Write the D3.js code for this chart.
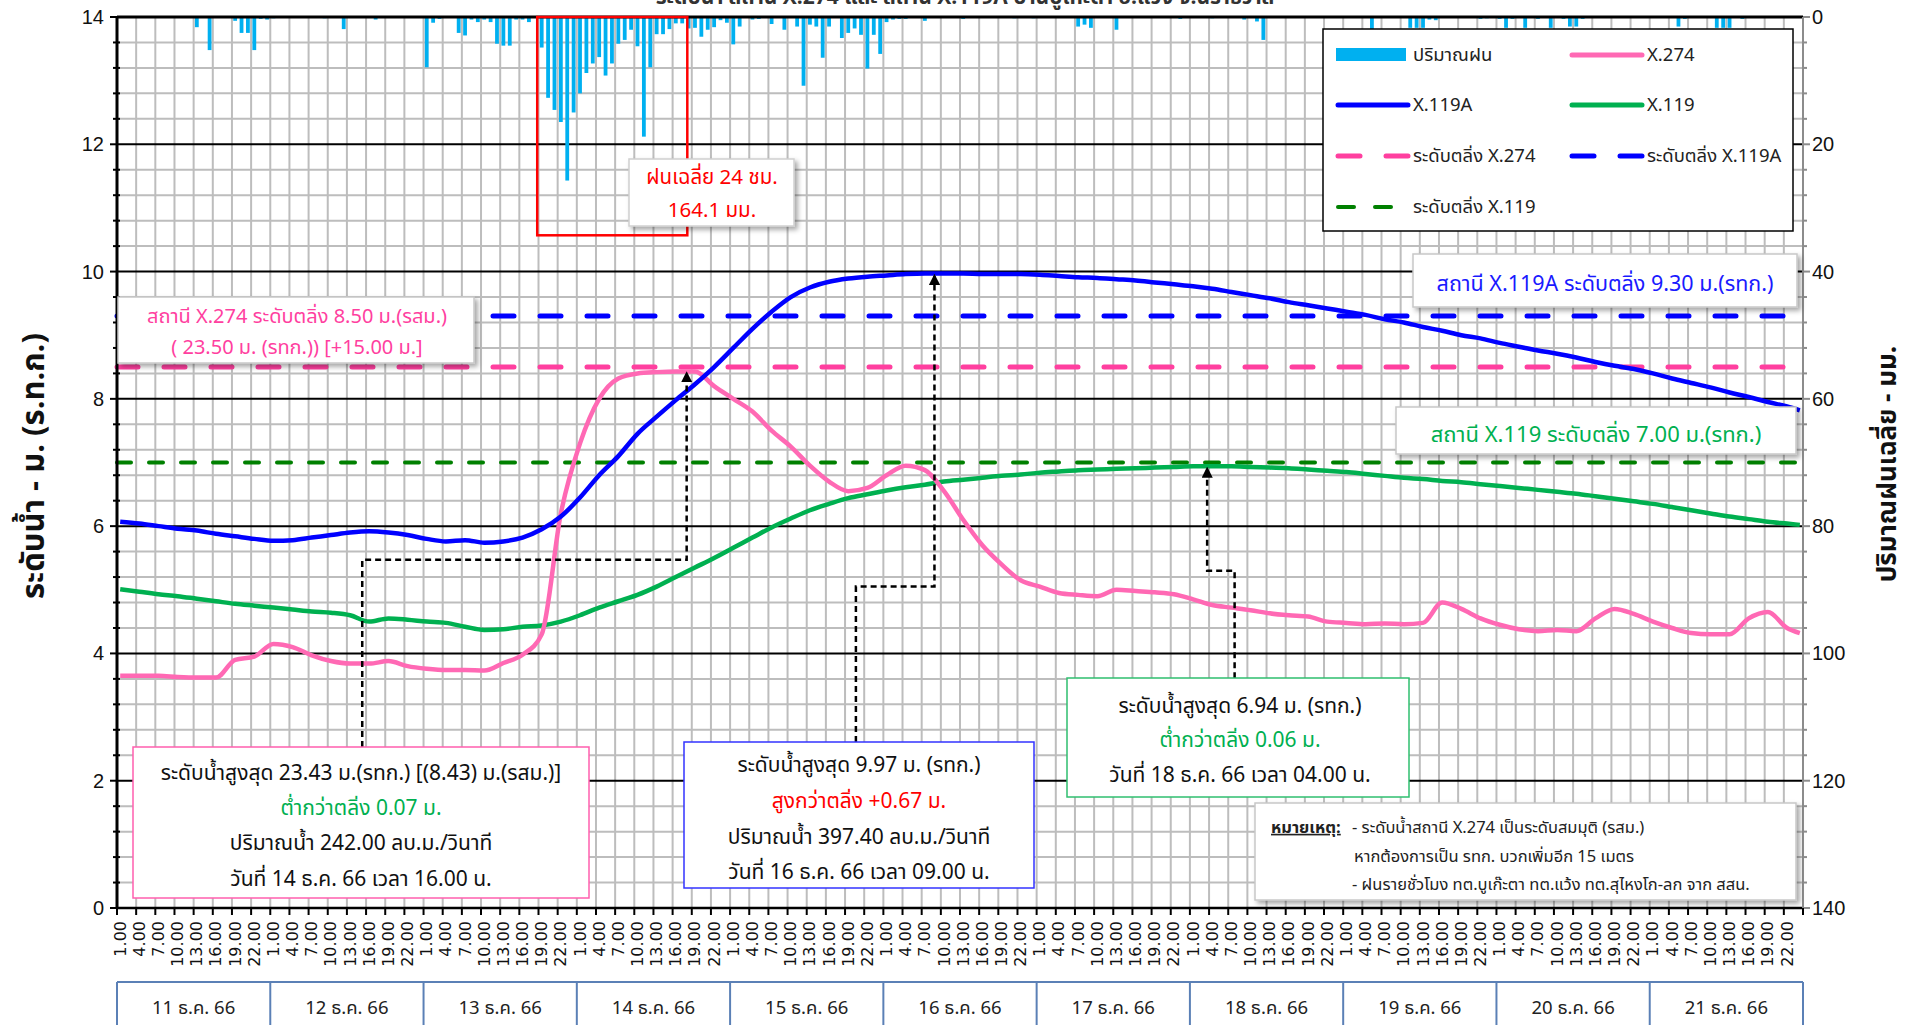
<!DOCTYPE html>
<html><head><meta charset="utf-8">
<script src="https://cdn.jsdelivr.net/npm/d3@7"></script>
<style>
html,body{margin:0;padding:0;background:#fff;overflow:hidden}
svg{display:block}
text{font-family:Tahoma,"Noto Sans Thai","Noto Sans","DejaVu Sans",sans-serif}
</style></head><body>
<svg id="c" width="1916" height="1025"></svg>
<script>
// ---------------- DATA ----------------
const days = ["11 ธ.ค. 66","12 ธ.ค. 66","13 ธ.ค. 66","14 ธ.ค. 66","15 ธ.ค. 66","16 ธ.ค. 66","17 ธ.ค. 66","18 ธ.ค. 66","19 ธ.ค. 66","20 ธ.ค. 66","21 ธ.ค. 66"];
const tickLabels = ["1.00","4.00","7.00","10.00","13.00","16.00","19.00","22.00"];
const leftTicks = [0,2,4,6,8,10,12,14];
const rightTicks = [0,20,40,60,80,100,120,140];
// hour index (0 = 11 ธ.ค. 1.00) of each sampled water level reading (every 3 h + last hour)
const sampleHours = [0,3,6,9,12,15,18,21,24,27,30,33,36,39,42,45,48,51,54,57,60,63,66,69,72,75,78,81,84,87,90,93,96,99,102,105,108,111,114,117,120,123,126,129,132,135,138,141,144,147,150,153,156,159,162,165,168,171,174,177,180,183,186,189,192,195,198,201,204,207,210,213,216,219,222,225,228,231,234,237,240,243,246,249,252,255,258,261,263];
const levelX274 = [3.65,3.65,3.65,3.63,3.62,3.62,3.9,3.95,4.15,4.1,3.97,3.88,3.84,3.84,3.88,3.8,3.76,3.74,3.74,3.73,3.85,3.98,4.3,6.2,7.3,8.0,8.32,8.4,8.42,8.43,8.43,8.2,8.0,7.8,7.5,7.25,6.95,6.7,6.55,6.6,6.8,6.95,6.88,6.55,6.1,5.7,5.4,5.15,5.05,4.95,4.92,4.9,5.0,4.98,4.96,4.93,4.85,4.76,4.72,4.68,4.63,4.6,4.58,4.5,4.48,4.46,4.47,4.46,4.48,4.8,4.7,4.55,4.45,4.38,4.35,4.37,4.35,4.55,4.7,4.62,4.5,4.4,4.32,4.3,4.3,4.55,4.65,4.4,4.32];
const levelX119A = [6.07,6.04,6.0,5.96,5.93,5.88,5.84,5.8,5.77,5.78,5.82,5.86,5.9,5.92,5.9,5.86,5.8,5.76,5.78,5.74,5.76,5.82,5.95,6.15,6.45,6.8,7.1,7.45,7.72,7.98,8.23,8.5,8.8,9.1,9.37,9.6,9.75,9.84,9.89,9.92,9.94,9.96,9.97,9.97,9.97,9.96,9.96,9.96,9.95,9.93,9.91,9.9,9.88,9.86,9.83,9.8,9.77,9.73,9.68,9.63,9.58,9.52,9.47,9.42,9.37,9.32,9.25,9.2,9.13,9.07,9.0,8.95,8.88,8.82,8.76,8.71,8.65,8.58,8.52,8.47,8.4,8.32,8.25,8.18,8.1,8.03,7.95,7.88,7.82];
const levelX119 = [5.01,4.97,4.93,4.9,4.86,4.82,4.78,4.75,4.72,4.69,4.66,4.64,4.6,4.5,4.55,4.53,4.5,4.48,4.42,4.37,4.38,4.42,4.44,4.5,4.6,4.72,4.82,4.92,5.05,5.2,5.35,5.5,5.66,5.82,5.98,6.12,6.25,6.35,6.44,6.5,6.56,6.61,6.65,6.7,6.73,6.76,6.79,6.81,6.84,6.86,6.88,6.89,6.9,6.91,6.92,6.93,6.94,6.94,6.94,6.93,6.92,6.91,6.89,6.87,6.85,6.82,6.79,6.76,6.74,6.71,6.69,6.66,6.63,6.6,6.57,6.54,6.51,6.47,6.43,6.39,6.35,6.3,6.25,6.2,6.15,6.11,6.07,6.04,6.02];
// hourly rainfall (mm), one row per day, hours 1..24
const rain = [
  0,0,0,0,0,0,0,0,0,0,0,0,1.6,0,5.2,0,0,0,0.6,2.5,2.5,5.2,0.3,0.4,
  0.2,0,0,0,0,0,0,0,0.2,0,0,1.9,0,0,0,0,0.4,0,0,0,0,0,0,0,
  7.9,0.9,0.3,0,0,2.5,2.9,0.4,0.8,0.4,0.8,4.2,4.5,4.5,0.4,0.4,0.8,0,4.8,12.7,14.6,16.5,25.7,15,
  12,8.8,7.3,6.3,9.2,7.3,4.2,3.6,2,4.6,18.8,7.9,2.7,2.7,1.9,1,1,1.8,1.7,3.1,2.0,1.6,0.5,0.9,
  4.3,1.5,0,0.4,0.3,0,1.1,0,2.0,0,1.5,10.8,1.2,1.5,6.4,1.5,0,3.3,2.5,1.8,2.8,8.1,2.8,5.8,
  0.8,0.4,0.3,0.3,0,0,0.6,0,0,0,0,0,0.3,0,0,0,0,0,0,0,0.2,0,0,0.2,
  0,0,0,0,0,0,1.5,1.2,1.7,0,0,0,2.0,0,0,0,0,0,0,0,0,0,0.3,0,
  0,0,0,0.2,0,0,0,0,0.4,0,0.7,3.6,0,0,0,0,0,0,0,0,0,0,0,0,
  0,0,0,0,2.0,0,0,0,0,0,1.7,1.7,1.7,0.4,0.5,0,0,0,0,0,0,0.3,0.2,0,
  0.3,1.7,0.3,0,1.7,0,0.3,0,1.7,0,0.3,1.5,1.5,0.3,0,0,0,0,0,0,0,0,0,0,
  0,0,0,0,1.5,0.3,0,0,0,0,1.7,1.7,1.7,0,0.3,0,0,0,0,0,0,0,0,0
];
const bankX274 = 8.5, bankX119A = 9.3, bankX119 = 7.0;
// peak markers: [hour index, level]
const peakX274 = [89.2, 8.43], peakX119A = [128, 9.97], peakX119 = [170.7, 6.94];

// ---------------- LAYOUT ----------------
const L=117, R=1803, T=17, B=908;
const svg = d3.select('#c');
const x = d3.scaleLinear().domain([0,264]).range([L,R]);
const y = d3.scaleLinear().domain([0,14]).range([B,T]);
const yr = d3.scaleLinear().domain([0,140]).range([T,B]);
const cPink='#ff69b4', cPinkD='#ff3f9f', cBlue='#0000ff', cGreen='#00b050', cGreenD='#008000', cRain='#00b0f0';

const defs = svg.append('defs');
const f = defs.append('filter').attr('id','sh').attr('x','-5%').attr('y','-10%').attr('width','115%').attr('height','135%');
f.append('feDropShadow').attr('dx',3).attr('dy',3).attr('stdDeviation',2.5).attr('flood-color','#000').attr('flood-opacity',0.35);
defs.append('marker').attr('id','arr').attr('viewBox','0 0 10 10').attr('refX',8).attr('refY',5)
  .attr('markerWidth',4.5).attr('markerHeight',4.5).attr('orient','auto')
  .append('path').attr('d','M0,0L10,5L0,10z').attr('fill','#000');

// title (partially cut at top, as in the original)
svg.append('text').attr('x',965).attr('y',4).attr('text-anchor','middle').attr('font-size',21).attr('font-weight','bold').attr('fill','#333')
  .text('ระดับน้ำ สถานี X.274 และ สถานี X.119A บ้านบูเก๊ะตา อ.แว้ง จ.นราธิวาส');

// grid
const grid = svg.append('g');
d3.range(1,88).forEach(k=>{
  grid.append('line').attr('x1',x(3*k)).attr('x2',x(3*k)).attr('y1',T).attr('y2',B).attr('stroke','#bdbdbd').attr('stroke-width',2);
});
d3.range(1,35).forEach(i=>{
  const v=i*0.4; const major = i%5===0;
  grid.append('line').attr('x1',L).attr('x2',R).attr('y1',y(v)).attr('y2',y(v))
    .attr('stroke',major?'#000':'#bdbdbd').attr('stroke-width',2);
});

// rain bars
svg.append('g').selectAll('rect').data(rain.map((v,i)=>({v,i})).filter(d=>d.v>0)).join('rect')
  .attr('x',d=>x(d.i+0.5)-1.9).attr('width',3.8).attr('y',T).attr('height',d=>yr(d.v)-T).attr('fill',cRain);

// bank level dashed lines
const bank = svg.append('g');
bank.append('line').attr('x1',L).attr('x2',R).attr('y1',y(bankX119)).attr('y2',y(bankX119))
  .attr('stroke',cGreenD).attr('stroke-width',4).attr('stroke-dasharray','14,18').attr('stroke-linecap','round');
bank.append('line').attr('x1',L).attr('x2',R).attr('y1',y(bankX274)).attr('y2',y(bankX274))
  .attr('stroke',cPinkD).attr('stroke-width',5).attr('stroke-dasharray','21,26').attr('stroke-linecap','round');
bank.append('line').attr('x1',L).attr('x2',R).attr('y1',y(bankX119A)).attr('y2',y(bankX119A))
  .attr('stroke',cBlue).attr('stroke-width',5).attr('stroke-dasharray','21,26').attr('stroke-linecap','round');

// series
const line = d3.line().x((d,i)=>x(sampleHours[i]+0.5)).y(d=>y(d)).curve(d3.curveMonotoneX);
[[levelX119,cGreen],[levelX274,cPink],[levelX119A,cBlue]].forEach(([s,c])=>{
  svg.append('path').attr('d',line(s)).attr('fill','none').attr('stroke',c).attr('stroke-width',4.5).attr('stroke-linejoin','round');
});

// axes frame
const ax = svg.append('g');
ax.append('line').attr('x1',L).attr('x2',R).attr('y1',T).attr('y2',T).attr('stroke','#000').attr('stroke-width',3);
ax.append('line').attr('x1',L).attr('x2',R).attr('y1',B).attr('y2',B).attr('stroke','#000').attr('stroke-width',2.5);
ax.append('line').attr('x1',L).attr('x2',L).attr('y1',T).attr('y2',B).attr('stroke','#000').attr('stroke-width',3);
ax.append('line').attr('x1',R).attr('x2',R).attr('y1',T).attr('y2',B).attr('stroke','#8c8c8c').attr('stroke-width',2);
d3.range(0,36).forEach(i=>{
  const v=i*0.4, major=i%5===0;
  ax.append('line').attr('x1',L-(major?7:4)).attr('x2',L+(major?0:3)).attr('y1',y(v)).attr('y2',y(v)).attr('stroke','#000').attr('stroke-width',2);
  ax.append('line').attr('x1',R).attr('x2',R+(major?7:4)).attr('y1',y(v)).attr('y2',y(v)).attr('stroke','#8c8c8c').attr('stroke-width',2);
});
ax.selectAll('.lt').data(leftTicks).join('text').attr('x',104).attr('y',d=>y(d)).attr('dy','0.35em').attr('text-anchor','end')
  .attr('font-size',20).style('font-family','"Liberation Sans",Arial,sans-serif').attr('fill','#111').text(d=>d);
ax.selectAll('.rt').data(rightTicks).join('text').attr('x',1812).attr('y',d=>yr(d)).attr('dy','0.35em').attr('text-anchor','start')
  .attr('font-size',20).style('font-family','"Liberation Sans",Arial,sans-serif').attr('fill','#111').text(d=>d);
// x ticks + labels
d3.range(0,89).forEach(k=>{
  ax.append('line').attr('x1',x(3*k)).attr('x2',x(3*k)).attr('y1',B).attr('y2',B+7).attr('stroke','#000').attr('stroke-width',2);
});
d3.range(0,88).forEach(k=>{
  const cx = x(3*k+0.5);
  ax.append('text').attr('transform',`translate(${cx+5.5},921) rotate(-90)`).attr('text-anchor','end')
    .attr('font-size',16).style('font-family','"DejaVu Sans",sans-serif').attr('fill','#111').text(tickLabels[k%8]);
});
// day boxes
ax.append('line').attr('x1',x(0)).attr('x2',x(264)).attr('y1',982).attr('y2',982).attr('stroke','#5b80b6').attr('stroke-width',2);
d3.range(0,12).forEach(d=>{
  ax.append('line').attr('x1',x(24*d)).attr('x2',x(24*d)).attr('y1',982).attr('y2',1025).attr('stroke','#5b80b6').attr('stroke-width',2);
});
ax.selectAll('.dl').data(days).join('text').attr('x',(d,i)=>x(24*i+12)).attr('y',1014).attr('text-anchor','middle')
  .attr('font-size',18.5).attr('fill','#222').text(d=>d);

// axis titles
svg.append('text').attr('transform','translate(44,466) rotate(-90)').attr('text-anchor','middle').attr('font-size',31).attr('font-weight','bold').attr('fill','#111').text('ระดับน้ำ - ม. (ร.ท.ก.)');
svg.append('text').attr('transform','translate(1896,464) rotate(-90)').attr('text-anchor','middle').attr('font-size',26).attr('font-weight','bold').attr('fill','#111').text('ปริมาณฝนเฉลี่ย - มม.');

// red 24h rectangle + label
svg.append('rect').attr('x',x(65.8)).attr('y',T).attr('width',x(89.3)-x(65.8)).attr('height',yr(34.3)-T).attr('fill','none').attr('stroke','#ff0000').attr('stroke-width',2.5);
function box(x0,y0,w,h,stroke,shadow){
  svg.append('rect').attr('x',x0).attr('y',y0).attr('width',w).attr('height',h).attr('fill','#fff')
    .attr('stroke',stroke).attr('stroke-width',1.5).attr('filter',shadow?'url(#sh)':null);
}
function lines(cx,ys,items,size){
  items.forEach((t,i)=>svg.append('text').attr('x',cx).attr('y',ys[i]).attr('dy','0.35em').attr('text-anchor','middle')
    .attr('font-size',size).attr('fill',t[1]).text(t[0]));
}
box(629,159,165,67,'#d0d0d0',true);
lines(712,[177,210],[['ฝนเฉลี่ย 24 ชม.','#ff0000'],['164.1 มม.','#ff0000']],20.5);

// bank level labels
box(118,297,356,66,'#c8c8c8',true);
lines(297,[316,347],[['สถานี X.274 ระดับตลิ่ง  8.50 ม.(รสม.)',cPinkD],['( 23.50 ม. (รทก.)) [+15.00 ม.]',cPinkD]],20);
box(1413,254,384,53,'#c8c8c8',true);
lines(1605,[283],[['สถานี X.119A ระดับตลิ่ง 9.30 ม.(รทก.)','#1a1aff']],21.5);
box(1396,407,400,47,'#c8c8c8',true);
lines(1596,[434],[['สถานี X.119 ระดับตลิ่ง 7.00 ม.(รทก.)',cGreen]],22);

// connectors
const conn = d3.line().x(d=>x(d[0])).y(d=>y(d[1]));
[
  [[38.4,2.53],[38.4,5.47],[peakX274[0],5.47],[peakX274[0],peakX274[1]-0.03]],
  [[115.7,2.61],[115.7,5.05],[peakX119A[0],5.05],[peakX119A[0],peakX119A[1]-0.04]],
  [[175,3.61],[175,5.3],[peakX119[0],5.3],[peakX119[0],peakX119[1]-0.04]]
].forEach(p=>{
  svg.append('path').attr('d',conn(p)).attr('fill','none').attr('stroke','#000').attr('stroke-width',2.5)
    .attr('stroke-dasharray','6,4').attr('marker-end','url(#arr)');
});

// peak boxes
box(133,747,456,151,'#ff5fae',false);
lines(361,[773,808,843,879],[
  ['ระดับน้ำสูงสุด 23.43 ม.(รทก.) [(8.43) ม.(รสม.)]','#111'],
  ['ต่ำกว่าตลิ่ง 0.07 ม.',cGreen],
  ['ปริมาณน้ำ 242.00 ลบ.ม./วินาที','#111'],
  ['วันที่ 14 ธ.ค.  66 เวลา 16.00 น.','#111']],21);
box(684,742,350,146,'#3333ff',false);
lines(859,[765,801,837,872],[
  ['ระดับน้ำสูงสุด 9.97 ม. (รทก.)','#111'],
  ['สูงกว่าตลิ่ง  +0.67 ม.','#ff0000'],
  ['ปริมาณน้ำ 397.40 ลบ.ม./วินาที','#111'],
  ['วันที่ 16 ธ.ค.  66 เวลา 09.00 น.','#111']],21);
box(1067,678,342,119,'#2fbf6f',false);
lines(1240,[706,740,775],[
  ['ระดับน้ำสูงสุด 6.94 ม. (รทก.)','#111'],
  ['ต่ำกว่าตลิ่ง 0.06 ม.',cGreen],
  ['วันที่ 18 ธ.ค.  66 เวลา 04.00 น.','#111']],21);

// note box
box(1255,803,541,97,'#c8c8c8',true);
const nt = svg.append('g').attr('font-size',16.5).attr('fill','#222');
nt.append('text').attr('x',1271).attr('y',827).attr('dy','0.35em').attr('font-weight','bold').attr('text-decoration','underline').text('หมายเหตุ:');
nt.append('text').attr('x',1352).attr('y',827).attr('dy','0.35em').text('- ระดับน้ำสถานี X.274 เป็นระดับสมมุติ (รสม.)');
nt.append('text').attr('x',1354).attr('y',856).attr('dy','0.35em').text('หากต้องการเป็น รทก. บวกเพิ่มอีก 15 เมตร');
nt.append('text').attr('x',1352).attr('y',884).attr('dy','0.35em').text('- ฝนรายชั่วโมง ทต.บูเก๊ะตา ทต.แว้ง ทต.สุไหงโก-ลก จาก สสน.');

// legend
const lg = svg.append('g');
lg.append('rect').attr('x',1323).attr('y',29).attr('width',470).attr('height',202).attr('fill','#fff').attr('stroke','#000').attr('stroke-width',1.5);
const legendItems = [
  {t:'ปริมาณฝน',type:'bar',c:cRain,col:0,row:0},
  {t:'X.274',type:'line',c:cPink,col:1,row:0},
  {t:'X.119A',type:'line',c:cBlue,col:0,row:1},
  {t:'X.119',type:'line',c:cGreen,col:1,row:1},
  {t:'ระดับตลิ่ง X.274',type:'dash',c:cPinkD,col:0,row:2},
  {t:'ระดับตลิ่ง X.119A',type:'dash',c:cBlue,col:1,row:2},
  {t:'ระดับตลิ่ง X.119',type:'dashs',c:cGreenD,col:0,row:3}
];
legendItems.forEach(d=>{
  const x0 = d.col===0?1336:1570, yc = [55,105,156,207][d.row];
  if(d.type==='bar') lg.append('rect').attr('x',x0).attr('y',yc-7).attr('width',70).attr('height',13).attr('fill',d.c);
  else if(d.type==='line') lg.append('line').attr('x1',x0+2).attr('x2',x0+72).attr('y1',yc).attr('y2',yc).attr('stroke',d.c).attr('stroke-width',5).attr('stroke-linecap','round');
  else if(d.type==='dash'){
    lg.append('line').attr('x1',x0+2).attr('x2',x0+24).attr('y1',yc).attr('y2',yc).attr('stroke',d.c).attr('stroke-width',5).attr('stroke-linecap','round');
    lg.append('line').attr('x1',x0+50).attr('x2',x0+72).attr('y1',yc).attr('y2',yc).attr('stroke',d.c).attr('stroke-width',5).attr('stroke-linecap','round');
  } else {
    lg.append('line').attr('x1',x0+2).attr('x2',x0+18).attr('y1',yc).attr('y2',yc).attr('stroke',d.c).attr('stroke-width',4).attr('stroke-linecap','round');
    lg.append('line').attr('x1',x0+39).attr('x2',x0+55).attr('y1',yc).attr('y2',yc).attr('stroke',d.c).attr('stroke-width',4).attr('stroke-linecap','round');
  }
  lg.append('text').attr('x',x0+77).attr('y',yc).attr('dy','0.35em').attr('font-size',18.5).attr('fill','#222').text(d.t);
});
</script>
</body></html>
